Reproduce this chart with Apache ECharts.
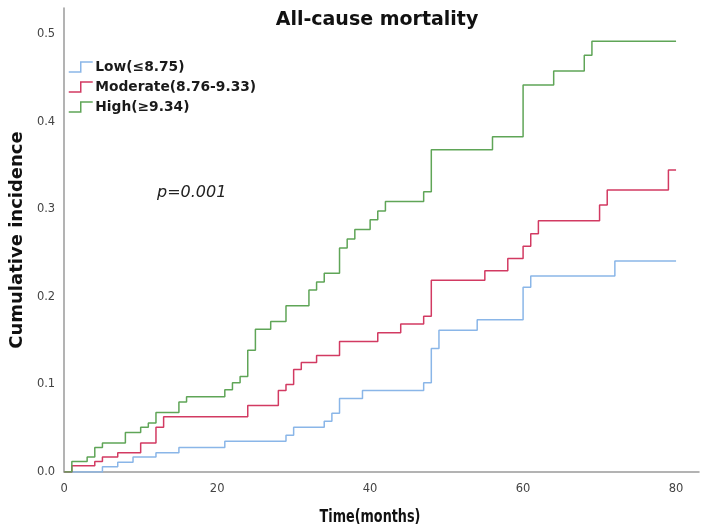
<!DOCTYPE html>
<html>
<head>
<meta charset="utf-8">
<script src="https://cdn.jsdelivr.net/npm/echarts@6/dist/echarts.min.js"></script>
<style>html,body{margin:0;padding:0;background:#fff}#c{width:709px;height:528px}</style>
</head>
<body>
<div id="c"></div>
<script>
// Data (months, cumulative incidence), step changes
const seriesNames = ['Low(≤8.75)', 'Moderate(8.76-9.33)', 'High(≥9.34)'];
const lowTimes = [0, 5, 7, 9, 12, 15, 21, 29, 30, 34, 35, 36, 39, 47, 48, 49, 54, 60, 61, 72, 80];
const lowValues = [0, 0.006, 0.011, 0.017, 0.022, 0.028, 0.035, 0.042, 0.051, 0.058, 0.067, 0.084, 0.093, 0.102, 0.141, 0.162, 0.174, 0.211, 0.224, 0.241, 0.241];
const modTimes = [0, 1, 4, 5, 7, 10, 12, 13, 24, 28, 29, 30, 31, 33, 36, 41, 44, 47, 48, 55, 58, 60, 61, 62, 70, 71, 79, 80];
const modValues = [0, 0.007, 0.012, 0.017, 0.022, 0.033, 0.051, 0.063, 0.076, 0.093, 0.100, 0.117, 0.125, 0.133, 0.149, 0.159, 0.169, 0.178, 0.219, 0.230, 0.244, 0.258, 0.272, 0.287, 0.305, 0.322, 0.345, 0.345];
const highTimes = [0, 1, 3, 4, 5, 8, 10, 11, 12, 15, 16, 21, 22, 23, 24, 25, 27, 29, 32, 33, 34, 36, 37, 38, 40, 41, 42, 47, 48, 56, 60, 64, 68, 69, 80];
const highValues = [0, 0.012, 0.017, 0.028, 0.033, 0.045, 0.051, 0.056, 0.068, 0.080, 0.086, 0.094, 0.102, 0.109, 0.139, 0.163, 0.172, 0.190, 0.208, 0.217, 0.227, 0.256, 0.266, 0.277, 0.288, 0.298, 0.309, 0.320, 0.368, 0.383, 0.442, 0.458, 0.476, 0.492, 0.492];
const xTicks = [0, 20, 40, 60, 80];
const yTicks = [0.0, 0.1, 0.2, 0.3, 0.4, 0.5];
const colors = ['#8ab6e8', '#d23a62', '#5fa557'];

function pairs(t, v) { return t.map((x, i) => [x, v[i]]); }
const allData = [pairs(lowTimes, lowValues), pairs(modTimes, modValues), pairs(highTimes, highValues)];

const chart = echarts.init(document.getElementById('c'), null, {renderer: 'canvas'});
const stepIcon = 'path://M0,10 L12,10 L12,0 L24,0';
chart.setOption({
  animation: false,
  backgroundColor: '#ffffff',
  title: {
    text: 'All-cause mortality',
    left: 372, top: 6, textAlign: 'center',
    textStyle: {fontFamily: 'DejaVu Sans', fontWeight: 'bold', fontSize: 19, color: '#111'}
  },
  legend: {
    orient: 'vertical',
    left: 63, top: 54,
    itemWidth: 25, itemHeight: 10,
    itemGap: 4,
    icon: stepIcon,
    data: seriesNames.map((n, i) => ({name: n, itemStyle: {color: 'rgba(0,0,0,0)', borderColor: colors[i], borderWidth: 1.5}})),
    itemStyle: {color: 'rgba(0,0,0,0)', borderWidth: 1.5},
    textStyle: {fontFamily: 'DejaVu Sans', fontWeight: 'bold', fontSize: 13.8, color: '#1a1a1a', lineHeight: 16, padding: [0, 0, 0, -3]}
  },
  grid: {left: 61, right: 10, top: 8, bottom: 56, containLabel: false},
  xAxis: {
    type: 'value', min: 0, max: 83, interval: 20,
    axisLine: {lineStyle: {color: '#9a9a9a', width: 1.5}},
    axisTick: {show: false},
    splitLine: {show: false},
    axisLabel: {
      margin: 11, color: '#444', fontFamily: 'DejaVu Sans', fontSize: 11.5,
      formatter: v => xTicks.indexOf(v) >= 0 ? String(v) : ''
    }
  },
  yAxis: {
    type: 'value', min: 0, max: 0.53, interval: 0.1,
    name: 'Cumulative incidence', nameLocation: 'middle', nameGap: 36, nameRotate: 90,
    nameTextStyle: {fontFamily: 'DejaVu Sans', fontWeight: 'bold', fontSize: 18, color: '#111'},
    axisLine: {show: true, lineStyle: {color: '#9a9a9a', width: 1.5}},
    axisTick: {show: false},
    splitLine: {show: false},
    axisLabel: {
      margin: 9, color: '#444', fontFamily: 'DejaVu Sans', fontSize: 11.5,
      formatter: v => yTicks.some(t => Math.abs(t - v) < 1e-9) ? v.toFixed(1) : ''
    }
  },
  graphic: [{
    type: 'text', x: 157, y: 185,
    style: {text: 'p=0.001', fontFamily: 'DejaVu Sans', fontStyle: 'italic', fontSize: 16, fill: '#222'}
  }, {
    type: 'text', x: 370, y: 517, scaleX: 0.79, originX: 0, originY: 0,
    style: {text: 'Time(months)', fontFamily: 'DejaVu Sans Condensed, DejaVu Sans', fontWeight: 'bold', fontSize: 18, fill: '#111', align: 'center', verticalAlign: 'middle'}
  }],
  series: seriesNames.map((n, i) => ({
    name: n, type: 'line', step: 'end', data: allData[i],
    showSymbol: false, symbol: 'none',
    lineStyle: {color: colors[i], width: 1.5},
    itemStyle: {color: colors[i]}
  }))
});
</script>
</body>
</html>
